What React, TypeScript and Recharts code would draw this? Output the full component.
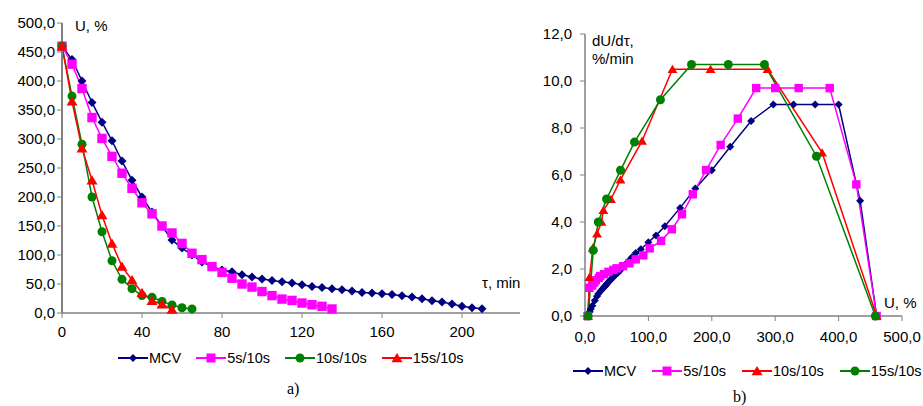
import { LineChart, Line, XAxis, YAxis } from "recharts";

const FONT = '"Liberation Sans", Arial, sans-serif';
const NAVY = "#000080";
const PINK = "#FF00FF";
const GREEN = "#008000";
const RED = "#FF0000";
const AXIS = "#808080";

// a) U, % against time, min
const timeMin = [
  0, 5, 10, 15, 20, 25, 30, 35, 40, 45, 50, 55, 60, 65, 70, 75, 80, 85, 90, 95,
  100, 105, 110, 115, 120, 125, 130, 135, 140, 145, 150, 155, 160, 165, 170,
  175, 180, 185, 190, 195, 200, 205, 210,
];
const mcvU = [
  460, 437, 400, 363, 329, 297, 262, 229, 200, 174, 150, 126, 112, 100, 88, 80,
  74, 71, 66, 62, 58.5, 56, 54, 51.6, 48.7, 45.8, 44, 41.8, 40, 37.8, 35.5,
  34.4, 33.2, 32, 29.8, 27.5, 24.6, 21.2, 18.9, 15.5, 11.5, 9.1, 7.4,
];
const s5U = [
  460, 429, 387, 337, 301, 270, 241, 215, 190, 171, 150, 138, 120, 103, 92, 80,
  70, 60, 50, 44.7, 37, 30, 24, 21.7, 17.2, 14.3, 11.5, 6.9,
];
const s10U = [460, 374, 291, 200, 140, 90, 58, 42, 30, 27, 20, 14, 9, 7];
const s15U = [460, 365, 284, 229, 169, 120, 80, 57, 35, 21, 15, 6];
const timeTicks = [0, 40, 80, 120, 160, 200];
const uTicksA = [0, 50, 100, 150, 200, 250, 300, 350, 400, 450, 500];

// b) dU/dτ against U
const mcvRateU = [
  460, 434, 400, 363, 329, 297, 262, 229, 200, 174, 150, 126, 112, 100, 88, 80,
  74, 71, 66, 62, 58.5, 56, 54, 51.6, 48.7, 45.8, 44, 41.8, 40, 37.8, 35.5,
  34.4, 33.2, 32, 29.8, 27.5, 24.6, 21.2, 18.9, 15.5, 11.5, 9.1, 7.4, 3,
];
const mcvRate = [
  0, 4.9, 9.0, 9.0, 9.0, 9.0, 8.3, 7.2, 6.2, 5.43, 4.6, 3.82, 3.43, 3.14, 2.84,
  2.68, 2.5, 2.4, 2.26, 2.15, 2.05, 1.97, 1.9, 1.83, 1.77, 1.69, 1.64, 1.58,
  1.53, 1.47, 1.4, 1.36, 1.32, 1.28, 1.22, 1.15, 1.06, 0.95, 0.84, 0.66, 0.44,
  0.3, 0.18, 0,
];
const s5RateU = [
  460, 428, 386, 337, 300, 270, 241, 214, 191, 170, 153, 137, 120, 102, 92, 80,
  70, 60, 50, 44.7, 37, 30, 24, 21.7, 17.2, 14.3, 11.5, 6.9, 4,
];
const s5Rate = [
  0, 5.6, 9.7, 9.7, 9.7, 9.7, 8.4, 7.28, 6.21, 5.18, 4.33, 3.69, 3.2, 2.88,
  2.58, 2.41, 2.24, 2.12, 2.03, 1.96, 1.88, 1.78, 1.7, 1.62, 1.52, 1.42, 1.3,
  1.2, 0,
];
const s10RateU = [460, 374, 288, 198, 138, 90, 56, 41, 29, 26, 19, 12.5, 7, 5];
const s10Rate = [0, 6.95, 10.5, 10.5, 10.5, 7.45, 5.8, 4.97, 4.5, 4.0, 3.5, 2.9, 1.65, 0];
const s15RateU = [458, 365, 283, 226, 168, 119, 78, 56, 34, 21, 13, 5];
const s15Rate = [0, 6.8, 10.7, 10.7, 10.7, 9.2, 7.4, 6.2, 4.98, 4.0, 2.8, 0];
const rateTicks = [0, 2, 4, 6, 8, 10, 12];
const uTicksB = [0, 100, 200, 300, 400, 500];

const rowsA = timeMin.map((t, i) => ({
  t,
  mcv: mcvU[i],
  s5: s5U[i],
  s10: s10U[i],
  s15: s15U[i],
}));
const pairs = (xs: number[], ys: number[]) => xs.map((u, i) => ({ u, v: ys[i] }));

type Shape = "diamond" | "square" | "circle" | "triangle";

function Marker({ shape, cx, cy, color, s }: { shape: Shape; cx: number; cy: number; color: string; s: number }) {
  if (shape === "diamond")
    return (
      <polygon
        points={`${cx},${cy - s} ${cx + s},${cy} ${cx},${cy + s} ${cx - s},${cy}`}
        fill={color}
      />
    );
  if (shape === "square")
    return <rect x={cx - s} y={cy - s} width={s * 2} height={s * 2} fill={color} />;
  if (shape === "circle") return <circle cx={cx} cy={cy} r={s} fill={color} />;
  return (
    <polygon
      points={`${cx},${cy - s} ${cx + s * 1.1},${cy + s * 0.85} ${cx - s * 1.1},${cy + s * 0.85}`}
      fill={color}
    />
  );
}

function dot(shape: Shape, color: string, s: number) {
  return (p: any) => {
    if (p.cx == null || p.cy == null || isNaN(p.cy) || p.value == null)
      return <g key={p.index} />;
    return <Marker key={p.index} shape={shape} cx={p.cx} cy={p.cy} color={color} s={s} />;
  };
}

const fmt1 = (v: number) => v.toFixed(1).replace(".", ",");
const tickStyle = { fill: "#000", fontSize: 15, fontFamily: FONT };

function LegendRow({
  left,
  top,
  items,
  gap,
}: {
  left: number;
  top: number;
  gap: number;
  items: { name: string; color: string; shape: Shape; s: number }[];
}) {
  return (
    <div
      style={{
        position: "absolute",
        left,
        top,
        display: "flex",
        alignItems: "center",
        fontFamily: FONT,
        fontSize: 14.5,
        color: "#000",
        whiteSpace: "nowrap",
      }}
    >
      {items.map((it) => (
        <div key={it.name} style={{ display: "flex", alignItems: "center", marginRight: gap }}>
          <svg width={30} height={14} style={{ display: "block" }}>
            <line x1={0} y1={7} x2={30} y2={7} stroke={it.color} strokeWidth={2} />
            <Marker shape={it.shape} cx={15} cy={7} color={it.color} s={it.s} />
          </svg>
          <span style={{ marginLeft: 1 }}>{it.name}</span>
        </div>
      ))}
    </div>
  );
}

export default function App() {
  return (
    <div
      style={{
        position: "absolute",
        left: 0,
        top: 0,
        width: 923,
        height: 406,
        background: "#fff",
        overflow: "hidden",
      }}
    >
      <div style={{ position: "absolute", left: 0, top: 0 }}>
        <LineChart
          width={540}
          height={340}
          data={rowsA}
          margin={{ top: 23, right: 20, bottom: 0, left: 12 }}
        >
          <XAxis
            dataKey="t"
            type="number"
            domain={[0, 229]}
            ticks={timeTicks}
            interval={0}
            height={27}
            tickSize={5}
            tickMargin={8}
            tick={tickStyle}
            axisLine={{ stroke: AXIS, strokeWidth: 1.5 }}
            tickLine={{ stroke: AXIS }}
          />
          <YAxis
            type="number"
            domain={[0, 500]}
            ticks={uTicksA}
            interval={0}
            width={50}
            tickSize={5}
            tickMargin={2}
            tick={tickStyle}
            tickFormatter={fmt1}
            axisLine={{ stroke: AXIS, strokeWidth: 2 }}
            tickLine={{ stroke: AXIS }}
          />
          <Line dataKey="mcv" stroke={NAVY} strokeWidth={1.5} dot={dot("diamond", NAVY, 4.5)} activeDot={false} isAnimationActive={false} />
          <Line dataKey="s5" stroke={PINK} strokeWidth={1.5} dot={dot("square", PINK, 4.7)} activeDot={false} isAnimationActive={false} />
          <Line dataKey="s10" stroke={GREEN} strokeWidth={1.5} dot={dot("circle", GREEN, 4.5)} activeDot={false} isAnimationActive={false} />
          <Line dataKey="s15" stroke={RED} strokeWidth={1.5} dot={dot("triangle", RED, 5)} activeDot={false} isAnimationActive={false} />
        </LineChart>
      </div>

      <div style={{ position: "absolute", left: 530, top: 0 }}>
        <LineChart width={393} height={345} margin={{ top: 34, right: 21, bottom: 0, left: 0 }}>
          <XAxis
            dataKey="u"
            type="number"
            domain={[0, 500]}
            ticks={uTicksB}
            interval={0}
            height={29}
            tickSize={5}
            tickMargin={10}
            tick={tickStyle}
            tickFormatter={fmt1}
            axisLine={{ stroke: AXIS, strokeWidth: 1.5 }}
            tickLine={{ stroke: AXIS }}
          />
          <YAxis
            type="number"
            domain={[0, 12]}
            ticks={rateTicks}
            interval={0}
            width={55}
            tickSize={5}
            tickMargin={8}
            tick={tickStyle}
            tickFormatter={fmt1}
            axisLine={{ stroke: AXIS, strokeWidth: 1.5 }}
            tickLine={{ stroke: AXIS }}
          />
          <Line data={pairs(mcvRateU, mcvRate)} dataKey="v" stroke={NAVY} strokeWidth={1.5} dot={dot("diamond", NAVY, 4)} activeDot={false} isAnimationActive={false} />
          <Line data={pairs(s5RateU, s5Rate)} dataKey="v" stroke={PINK} strokeWidth={1.5} dot={dot("square", PINK, 4.2)} activeDot={false} isAnimationActive={false} />
          <Line data={pairs(s10RateU, s10Rate)} dataKey="v" stroke={RED} strokeWidth={1.5} dot={dot("triangle", RED, 4.5)} activeDot={false} isAnimationActive={false} />
          <Line data={pairs(s15RateU, s15Rate)} dataKey="v" stroke={GREEN} strokeWidth={1.5} dot={dot("circle", GREEN, 4.5)} activeDot={false} isAnimationActive={false} />
        </LineChart>
      </div>

      <svg
        width={923}
        height={406}
        style={{ position: "absolute", left: 0, top: 0, pointerEvents: "none" }}
      >
        <g fontFamily={FONT} fontSize={15} fill="#000">
          <text x={75} y={31}>U, %</text>
          <text x={482} y={288}>τ, min</text>
          <text x={592} y={46}>dU/dτ,</text>
          <text x={592} y={64}>%/min</text>
          <text x={884} y={308}>U, %</text>
        </g>
        <g fontFamily='"Liberation Serif", "Times New Roman", serif' fontSize={16} fill="#000">
          <text x={287} y={394}>a)</text>
          <text x={733} y={402}>b)</text>
        </g>
      </svg>

      <LegendRow
        left={118}
        top={350}
        gap={15}
        items={[
          { name: "MCV", color: NAVY, shape: "diamond", s: 4 },
          { name: "5s/10s", color: PINK, shape: "square", s: 4.5 },
          { name: "10s/10s", color: GREEN, shape: "circle", s: 4.5 },
          { name: "15s/10s", color: RED, shape: "triangle", s: 5 },
        ]}
      />
      <LegendRow
        left={573}
        top={363}
        gap={16}
        items={[
          { name: "MCV", color: NAVY, shape: "diamond", s: 4 },
          { name: "5s/10s", color: PINK, shape: "square", s: 4.5 },
          { name: "10s/10s", color: RED, shape: "triangle", s: 5 },
          { name: "15s/10s", color: GREEN, shape: "circle", s: 4.5 },
        ]}
      />
    </div>
  );
}
